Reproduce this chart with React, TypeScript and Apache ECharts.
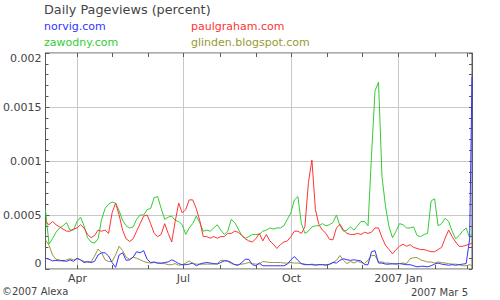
import React, { useEffect, useRef } from "react";
import * as echarts from "echarts";

const DAY = 86400000;
const START = Date.UTC(2006, 2, 5);
const END = Date.UTC(2007, 2, 5);

// sample days (every 3 days from 2006-03-05, plus the final day 2007-03-05)
const sampleDays = Array.from({ length: 122 }, (_, i) => i * 3).concat([365]);

const seriesNames = ["norvig.com", "paulgraham.com", "zawodny.com", "glinden.blogspot.com"];
const seriesColors = ["#3333ff", "#ff3333", "#33cc33", "#999933"];

const norvig = [
  1.0e-4, 0.9e-4, 0.75e-4, 0.8e-4, 0.75e-4, 0.8e-4, 0.7e-4, 0.85e-4, 0.7e-4, 1.0e-4,
  0.85e-4, 0.6e-4, 0.7e-4, 0.6e-4, 0.7e-4, 1.3e-4, 1.5e-4, 1.5e-4, 1.2e-4, 0.6e-4,
  0.15e-4, 1.3e-4, 1.5e-4, 0.8e-4, 0.85e-4, 1.1e-4, 1.6e-4, 1.5e-4, 1.7e-4, 0.9e-4,
  0.6e-4, 0.65e-4, 0.55e-4, 0.55e-4, 0.6e-4, 0.65e-4, 0.85e-4, 0.7e-4, 0.5e-4, 0.4e-4,
  0.4e-4, 0.45e-4, 0.55e-4, 0.3e-4, 0.45e-4, 0.55e-4, 0.6e-4, 0.55e-4, 0.5e-4, 0.45e-4,
  0.6e-4, 0.75e-4, 0.75e-4, 0.6e-4, 0.4e-4, 0.35e-4, 0.6e-4, 0.9e-4, 0.9e-4,
  0.4e-4, 0.3e-4, 0.55e-4,
  0.3e-4, 0.3e-4, 0.3e-4, 0.3e-4, 0.3e-4, 0.3e-4, 0.3e-4, 0.45e-4,
  0.85e-4, 1.15e-4, 0.8e-4, 0.5e-4, 0.4e-4, 0.4e-4, 0.4e-4, 0.35e-4, 0.4e-4, 0.4e-4,
  0.35e-4, 0.45e-4, 0.6e-4, 0.55e-4, 0.8e-4, 0.95e-4, 0.85e-4, 0.8e-4, 0.85e-4, 0.8e-4, 0.75e-4, 0.4e-4,
  0.4e-4, 1.6e-4, 1.7e-4, 0.55e-4, 0.55e-4, 0.45e-4, 0.45e-4, 0.5e-4, 0.45e-4, 0.5e-4,
  0.45e-4, 0.4e-4, 0.4e-4, 0.3e-4, 0.2e-4, 0.25e-4, 0.25e-4, 0.2e-4, 0.3e-4, 0.45e-4,
  0.55e-4, 0.45e-4, 0.4e-4, 0.35e-4, 0.4e-4, 0.35e-4, 0.4e-4, 0.45e-4, 0.5e-4, 2.8e-4,
  17.8e-4,
];

const paulgraham = [
  4.4e-4, 4.1e-4, 4.4e-4, 4.1e-4, 3.9e-4, 3.7e-4, 3.5e-4, 3.5e-4, 3.7e-4, 3.8e-4,
  4.1e-4, 3.8e-4, 3.2e-4, 2.9e-4, 3.1e-4, 3.6e-4, 3.5e-4, 3.6e-4, 3.3e-4, 5.2e-4,
  6.1e-4, 5.0e-4, 3.6e-4, 2.8e-4, 2.55e-4, 2.8e-4, 3.5e-4, 4.2e-4, 4.9e-4, 5.0e-4,
  4.2e-4, 3.3e-4, 3.0e-4, 3.2e-4, 4.2e-4, 3.3e-4, 2.5e-4, 4.4e-4, 6.1e-4, 5.2e-4,
  5.5e-4, 6.4e-4, 6.4e-4, 5.6e-4, 4.5e-4, 3.0e-4, 3.0e-4, 2.85e-4, 3.0e-4, 2.85e-4,
  3.0e-4, 3.0e-4, 3.3e-4, 3.3e-4, 3.5e-4, 3.4e-4, 3.1e-4, 2.8e-4, 2.6e-4,
  2.5e-4, 2.8e-4, 3.3e-4,
  2.6e-4, 3.2e-4, 2.6e-4, 2.3e-4, 1.9e-4, 2.25e-4, 2.5e-4, 2.6e-4,
  3.0e-4, 3.5e-4, 3.5e-4, 3.3e-4, 3.9e-4, 8.0e-4, 10.1e-4, 5.5e-4, 4.1e-4, 3.6e-4,
  3.3e-4, 2.75e-4, 2.7e-4, 3.8e-4, 4.15e-4, 3.6e-4, 3.3e-4, 3.2e-4, 3.2e-4, 3.3e-4, 3.2e-4, 3.4e-4,
  3.3e-4, 3.4e-4, 3.8e-4, 3.8e-4, 2.9e-4, 2.2e-4, 1.8e-4, 1.4e-4, 1.8e-4, 2.1e-4,
  2.3e-4, 2.1e-4, 2.25e-4, 2.0e-4, 1.9e-4, 1.8e-4, 1.8e-4, 1.7e-4, 1.6e-4, 1.6e-4,
  1.8e-4, 2.0e-4, 2.85e-4, 3.6e-4, 3.0e-4, 2.5e-4, 2.1e-4, 2.1e-4, 2.2e-4, 2.3e-4,
  2.4e-4,
];

const zawodny = [
  5.5e-4, 2.3e-4, 2.8e-4, 3.4e-4, 3.8e-4, 4.0e-4, 4.3e-4, 3.6e-4, 3.6e-4, 4.4e-4,
  4.8e-4, 4.0e-4, 2.9e-4, 2.5e-4, 2.4e-4, 2.8e-4, 4.6e-4, 5.6e-4, 6.0e-4, 6.2e-4,
  6.1e-4, 5.4e-4, 4.5e-4, 4.0e-4, 3.8e-4, 3.9e-4, 4.6e-4, 5.0e-4, 5.0e-4, 5.5e-4,
  5.6e-4, 6.6e-4, 6.7e-4, 5.6e-4, 4.6e-4, 4.8e-4, 4.9e-4, 4.5e-4, 4.4e-4, 4.1e-4,
  3.2e-4, 3.8e-4, 4.2e-4, 4.9e-4, 4.3e-4, 3.5e-4, 3.6e-4, 3.5e-4, 3.8e-4, 4.1e-4,
  3.6e-4, 3.2e-4, 3.5e-4, 4.6e-4, 4.3e-4, 3.7e-4, 3.1e-4, 2.85e-4, 3.0e-4,
  3.2e-4, 3.2e-4, 3.2e-4,
  3.5e-4, 3.6e-4, 3.8e-4, 3.7e-4, 3.8e-4, 3.8e-4, 4.0e-4, 4.6e-4,
  5.2e-4, 6.4e-4, 6.7e-4, 4.2e-4, 3.3e-4, 3.5e-4, 3.9e-4, 4.0e-4, 4.0e-4, 4.2e-4,
  4.0e-4, 4.1e-4, 4.3e-4, 5.0e-4, 4.0e-4, 3.5e-4, 3.6e-4, 3.9e-4, 3.6e-4, 4.0e-4, 4.4e-4, 4.4e-4,
  4.0e-4, 10.5e-4, 16.5e-4, 17.3e-4, 8.5e-4, 5.8e-4, 3.9e-4, 2.9e-4, 3.5e-4, 4.2e-4,
  4.1e-4, 3.8e-4, 3.8e-4, 3.9e-4, 3.1e-4, 3.0e-4, 3.2e-4, 3.3e-4, 6.3e-4, 6.5e-4,
  4.0e-4, 4.2e-4, 4.7e-4, 4.4e-4, 3.5e-4, 2.8e-4, 3.1e-4, 3.5e-4, 3.8e-4, 2.9e-4,
  3.3e-4,
];

const glinden = [
  2.7e-4, 2.2e-4, 1.3e-4, 0.9e-4, 0.85e-4, 0.7e-4, 0.85e-4, 0.95e-4, 0.85e-4, 0.95e-4,
  0.85e-4, 0.7e-4, 0.6e-4, 0.65e-4, 1.2e-4, 1.85e-4, 1.5e-4, 0.85e-4, 0.7e-4, 0.7e-4,
  1.3e-4, 2.1e-4, 1.7e-4, 1.1e-4, 0.9e-4, 1.1e-4, 1.0e-4, 0.85e-4, 0.7e-4, 0.6e-4,
  0.55e-4, 0.6e-4, 0.55e-4, 0.5e-4, 0.5e-4, 0.4e-4, 0.4e-4, 0.5e-4, 0.35e-4, 0.4e-4,
  0.55e-4, 0.75e-4, 0.5e-4, 0.45e-4, 0.45e-4, 0.45e-4, 0.45e-4, 0.45e-4, 0.45e-4, 0.5e-4,
  0.8e-4, 0.8e-4, 0.7e-4, 0.5e-4, 0.4e-4, 0.4e-4, 0.45e-4, 0.5e-4, 0.6e-4,
  0.5e-4, 0.45e-4, 0.45e-4,
  0.7e-4, 0.65e-4, 0.6e-4, 0.6e-4, 0.6e-4, 0.6e-4, 0.55e-4, 0.55e-4,
  0.6e-4, 0.55e-4, 0.55e-4, 0.5e-4, 0.45e-4, 0.4e-4, 0.45e-4, 0.4e-4, 0.4e-4, 0.4e-4,
  0.4e-4, 0.4e-4, 0.6e-4, 0.8e-4, 1.25e-4, 0.8e-4, 0.5e-4, 0.7e-4, 0.55e-4, 0.7e-4, 0.6e-4, 0.5e-4,
  0.8e-4, 1.25e-4, 1.25e-4, 0.65e-4, 0.65e-4, 0.55e-4, 0.55e-4, 0.45e-4, 0.5e-4, 0.5e-4,
  0.55e-4, 0.5e-4, 0.95e-4, 1.05e-4, 1.05e-4, 0.85e-4, 0.75e-4, 0.65e-4, 0.65e-4, 0.55e-4,
  0.65e-4, 0.6e-4, 0.55e-4, 0.5e-4, 0.45e-4, 0.45e-4, 0.4e-4, 0.3e-4, 0.3e-4, 0.4e-4,
  0.3e-4,
];

const monthTicks = [
  "2006-04-01", "2006-05-01", "2006-06-01", "2006-07-01", "2006-08-01", "2006-09-01",
  "2006-10-01", "2006-11-01", "2006-12-01", "2007-01-01", "2007-02-01", "2007-03-01",
];
const monthLabels = ["Apr", "", "", "Jul", "", "", "Oct", "", "", "2007 Jan", "", ""];
const yTickLabels = ["0", "0.0005", "0.001", "0.0015", "0.002"];

const FONT = '"DejaVu Sans", Verdana, sans-serif';
const FRAME = "#5a5a5a";
const TEXT = "#444444";
const GRIDLINE = "#c8c8c8";

const toPairs = (vals: number[]) => vals.map((v, i) => [START + sampleDays[i] * DAY, v]);

export default function App() {
  const ref = useRef<HTMLDivElement>(null);
  useEffect(() => {
    if (!ref.current) return;
    const chart = echarts.init(ref.current, undefined, { renderer: "svg" });
    const valuesByName: Record<string, number[]> = {
      "norvig.com": norvig,
      "paulgraham.com": paulgraham,
      "zawodny.com": zawodny,
      "glinden.blogspot.com": glinden,
    };
    const drawOrder = [2, 1, 3, 0];
    const legendPos = [
      { left: 39, top: 19 },
      { left: 186, top: 19 },
      { left: 39, top: 35 },
      { left: 186, top: 35 },
    ];
    const yCommon = {
      type: "value" as const,
      min: 0,
      max: 0.002,
      interval: 0.0005,
    };
    chart.setOption({
      animation: false,
      textStyle: { fontFamily: FONT },
      title: {
        text: "Daily Pageviews (percent)",
        left: 44,
        top: 3,
        padding: 0,
        textStyle: { fontSize: 12.8, fontWeight: "normal", color: TEXT, fontFamily: FONT },
      },
      legend: seriesNames.map((n, i) => ({
        data: [{ name: n, textStyle: { color: seriesColors[i] } }],
        left: legendPos[i].left,
        top: legendPos[i].top,
        padding: 0,
        icon: "none",
        itemWidth: 0,
        itemHeight: 14,
        selectedMode: false,
        textStyle: { fontSize: 11, fontFamily: FONT, color: seriesColors[i] },
      })),
      grid: {
        left: 45,
        right: 28,
        top: 53,
        bottom: 31,
        show: true,
        borderColor: FRAME,
        borderWidth: 1,
        backgroundColor: "transparent",
      },
      xAxis: {
        type: "time",
        min: START,
        max: END,
        axisLine: { show: false },
        axisTick: { show: false },
        axisLabel: { show: false },
        splitLine: { show: false },
      },
      yAxis: [
        {
          ...yCommon,
          position: "left",
          axisLine: { show: true, lineStyle: { color: FRAME } },
          axisTick: { show: true, inside: true, length: 4, lineStyle: { color: FRAME } },
          minorTick: { show: true, splitNumber: 5, length: 3, lineStyle: { color: FRAME } },
          axisLabel: {
            color: TEXT,
            fontSize: 11,
            fontFamily: FONT,
            margin: 4,
            formatter: (_v: number, idx: number) => yTickLabels[idx],
            verticalAlignMinLabel: "bottom",
            verticalAlignMaxLabel: "top",
          },
          splitLine: { show: true, lineStyle: { color: GRIDLINE, width: 1 } },
        },
        {
          ...yCommon,
          position: "right",
          axisLine: { show: true, lineStyle: { color: FRAME } },
          axisTick: { show: true, inside: true, length: 3, lineStyle: { color: FRAME } },
          minorTick: { show: true, splitNumber: 5, length: 3, lineStyle: { color: FRAME } },
          axisLabel: { show: false },
          splitLine: { show: false },
        },
      ],
      series: [
        {
          type: "custom",
          name: "monthTicks",
          silent: true,
          clip: false,
          z: 1,
          xAxisIndex: 0,
          yAxisIndex: 0,
          data: monthTicks.map((d) => [Date.parse(d + "T00:00:00Z"), 0]),
          renderItem: (params: any, api: any) => {
            const cs = params.coordSys;
            const x = Math.round(api.coord([api.value(0), 0])[0]) + 0.5;
            const top = cs.y;
            const bottom = cs.y + cs.height;
            const label = monthLabels[params.dataIndex];
            const children: any[] = [];
            if (label) {
              children.push({
                type: "line",
                shape: { x1: x, y1: top, x2: x, y2: bottom },
                style: { stroke: GRIDLINE, lineWidth: 1 },
              });
              children.push({
                type: "text",
                x: x,
                y: bottom + 9,
                style: {
                  text: label,
                  align: "center",
                  verticalAlign: "middle",
                  fill: TEXT,
                  font: `11px ${FONT}`,
                },
              });
            }
            children.push({
              type: "line",
              shape: { x1: x, y1: top, x2: x, y2: top + 4 },
              style: { stroke: FRAME, lineWidth: 1 },
            });
            children.push({
              type: "line",
              shape: { x1: x, y1: bottom - 4, x2: x, y2: bottom },
              style: { stroke: FRAME, lineWidth: 1 },
            });
            return { type: "group", children };
          },
        },
        ...drawOrder.map((i) => ({
          type: "line",
          name: seriesNames[i],
          data: toPairs(valuesByName[seriesNames[i]]),
          showSymbol: false,
          symbol: "none",
          z: 3,
          lineStyle: { width: 1, color: seriesColors[i] },
          itemStyle: { color: seriesColors[i] },
          emphasis: { disabled: true },
        })),
      ],
      graphic: [
        {
          type: "text",
          left: 2,
          top: 286,
          style: { text: "©2007 Alexa", fill: TEXT, font: `10px ${FONT}` },
        },
        {
          type: "text",
          right: 32,
          top: 287,
          style: { text: "2007 Mar 5", fill: TEXT, font: `10px ${FONT}` },
        },
      ],
    });
    return () => chart.dispose();
  }, []);
  return (
    <div
      ref={ref}
      style={{ position: "absolute", left: 0, top: 0, width: 500, height: 300, background: "#fff" }}
    />
  );
}
